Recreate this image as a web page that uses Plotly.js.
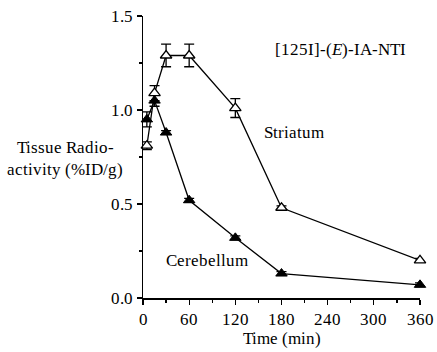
<!DOCTYPE html>
<html><head><meta charset="utf-8">
<script src="https://cdn.plot.ly/plotly-3.0.1.min.js"></script>
<style>
html,body{margin:0;padding:0;background:#fff}
@font-face{font-family:'RefSerif';src:local('Liberation Serif'),local('LiberationSerif'),local('LiberationSerif-Regular'),local('Times New Roman'),local('DejaVu Serif'),local('DejaVuSerif');font-style:normal;font-weight:400;}
@font-face{font-family:'RefSerif';src:local('Liberation Serif Italic'),local('LiberationSerif-Italic'),local('DejaVu Serif Italic'),local('DejaVuSerif-Italic');font-style:italic;font-weight:400;}
</style>
</head><body><div id="chart" style="width:437px;height:352px"></div>
<script>
const time = [5, 15, 30, 60, 120, 180, 360];
const striatum = [0.81, 1.09, 1.29, 1.29, 1.01, 0.48, 0.20];
const striatumErr = [0.02, 0.04, 0.06, 0.06, 0.05, 0.01, 0.01];
const cerebellum = [0.95, 1.05, 0.88, 0.52, 0.32, 0.13, 0.07];
const cerebellumErr = [0.04, 0.03, 0.01, 0.01, 0.01, 0.01, 0.01];
const xTicks = [0, 60, 120, 180, 240, 300, 360];
const yTicks = [0, 0.5, 1.0, 1.5];
const yTickText = ['0.0', '0.5', '1.0', '1.5'];

const fontFam = 'RefSerif, Liberation Serif, serif';
const traces = [
  {x: time, y: cerebellum, type: 'scatter', mode: 'lines+markers', cliponaxis: false,
   line: {color: '#000', width: 1.3},
   marker: {symbol: 'triangle-up', size: 10, color: '#000', line: {color: '#000', width: 1}},
   error_y: {type: 'data', array: cerebellumErr, visible: true, color: '#000', thickness: 1.3, width: 5}},
  {x: time, y: striatum, type: 'scatter', mode: 'lines+markers', cliponaxis: false,
   line: {color: '#000', width: 1.3},
   marker: {symbol: 'triangle-up', size: 10, color: '#fff', line: {color: '#000', width: 1.3}},
   error_y: {type: 'data', array: striatumErr, visible: true, color: '#000', thickness: 1.3, width: 5}}
];
const layout = {
  width: 437, height: 352, showlegend: false,
  paper_bgcolor: '#fff', plot_bgcolor: '#fff',
  margin: {l: 143, r: 17, t: 16, b: 54},
  font: {family: fontFam, size: 17, color: '#000'},
  xaxis: {range: [0, 360], tickvals: xTicks, ticktext: xTicks.map(String),
    showgrid: false, zeroline: false, showline: true, linecolor: '#000', linewidth: 1.5,
    ticks: 'outside', ticklen: 5, tickwidth: 1.3, tickcolor: '#000',
    tickfont: {family: fontFam, size: 17},
    minor: {dtick: 30, tick0: 0, ticks: 'outside', ticklen: 3, tickwidth: 1.2, tickcolor: '#000', showgrid: false},
    title: {text: 'Time (min)', font: {family: fontFam, size: 17}, standoff: 2}},
  yaxis: {range: [0, 1.5], tickvals: yTicks, ticktext: yTickText,
    showgrid: false, zeroline: false, showline: true, linecolor: '#000', linewidth: 1.5,
    ticks: 'outside', ticklen: 5, tickwidth: 1.3, tickcolor: '#000',
    tickfont: {family: fontFam, size: 17},
    minor: {dtick: 0.25, tick0: 0, ticks: 'outside', ticklen: 3, tickwidth: 1.2, tickcolor: '#000', showgrid: false}},
  annotations: [
    {xref: 'paper', yref: 'paper', x: -0.28, y: 0.496, xanchor: 'center', yanchor: 'middle',
     text: 'Tissue Radio-<br>activity (%ID/g)', showarrow: false, font: {family: fontFam, size: 17}},
    {xref: 'x', yref: 'y', x: 344, y: 1.32, xanchor: 'right', yanchor: 'middle',
     text: '[125I]-(<i>E</i>)-IA-NTI', showarrow: false, font: {family: fontFam, size: 17}},
    {xref: 'x', yref: 'y', x: 155, y: 0.88, xanchor: 'left', yanchor: 'middle',
     text: 'Striatum', showarrow: false, font: {family: fontFam, size: 17}},
    {xref: 'x', yref: 'y', x: 27, y: 0.2, xanchor: 'left', yanchor: 'middle',
     text: 'Cerebellum', showarrow: false, font: {family: fontFam, size: 17}}
  ]
};
document.fonts.load('17px RefSerif').catch(()=>{}).finally(() => {
  Plotly.newPlot('chart', traces, layout, {displayModeBar: false, staticPlot: true});
});
</script></body></html>
